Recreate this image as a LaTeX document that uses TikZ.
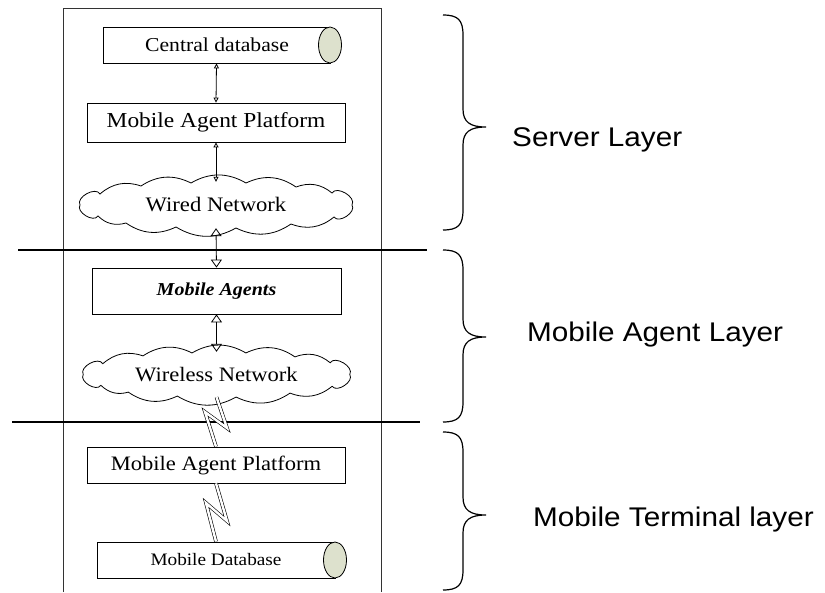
\documentclass[tikz,border=0pt]{standalone}
\usepackage{fontspec}
\usepackage{graphicx}
\setmainfont{Liberation Serif}
\newfontfamily\arialf{Liberation Sans}
\usetikzlibrary{arrows.meta,shapes.geometric}
\definecolor{capfill}{RGB}{221,225,205}
\newcommand\hx[1]{\scalebox{1.1}[1]{#1}}
\newcommand\fsz[1]{\fontsize{#1}{#1}\selectfont}
\tikzset{
  box/.style={draw, line width=0.8pt, rectangle, inner sep=0pt, align=center},
  netbox/.style={rectangle, inner sep=0pt},
  cloudline/.style={line width=0.8pt, black},
  dbcap/.style={draw, line width=0.8pt, ellipse, fill=capfill, inner sep=0pt, minimum width=23pt, minimum height=36pt},
  sarr/.style={{Triangle[open,length=5pt,width=5pt]}-{Triangle[open,length=5pt,width=5pt]}, line width=0.8pt},
  barr/.style={{Triangle[open,length=8pt,width=11pt]}-{Triangle[open,length=8pt,width=11pt]}, line width=0.8pt},
  bolt/.style={double=white, double distance=2.4pt, line width=0.6pt, line join=miter},
  frame/.style={line width=0.9pt, black!80},
  sep/.style={line width=1.4pt, black},
  bracestyle/.style={line width=1.2pt, black},
  layerlbl/.style={anchor=west, inner sep=0pt, font=\arialf\fsz{27}}
}
% cloud outline centred at (#1,#2), horizontal scale #3, vertical scale #4
\newcommand\cloudshapeat[4]{%
  \begin{scope}[shift={(#1,#2)}, y=1pt, xscale=#3, yscale=#4]
    \draw[cloudline] (-136,0) to[bend left=90] (-116,11) to[bend left=30] (-75,19)
      to[bend left=30] (-25,22) to[bend left=30] (30,22) to[bend left=30] (80,18)
      to[bend left=30] (116,12) to[bend left=90] (136,0) to[bend left=90] (118,-12)
      to[bend left=30] (75,-19) to[bend left=30] (20,-23) to[bend left=30] (-40,-22)
      to[bend left=30] (-90,-18) to[bend left=30] (-118,-11) to[bend left=90] cycle;
  \end{scope}}
\begin{document}
\begin{tikzpicture}[x=1pt,y=-1pt]
\useasboundingbox (0,0) rectangle (825,592);
% frame
\draw[frame] (63,592) -- (63,8) -- (381,8) -- (381,592);
% separators
\draw[sep] (18,250) -- (427,250);
\draw[sep] (12,422) -- (420,422);

% nodes
\node[box, minimum width=227pt, minimum height=36pt] (cdb) at (216.5,45) {};
\node[dbcap] (cdbcap) at (330,45) {};
\node (cdbt) at (217,45) {\hx{\fsz{19.7}Central database}};

\node[box, minimum width=258pt, minimum height=39pt] (map1) at (216,122.5) {\hx{\fsz{21.3}Mobile Agent Platform}};

\cloudshapeat{216}{205}{1}{1}
\node[netbox, minimum width=272pt, minimum height=46pt] (wired) at (216,205) {\hx{\fsz{20.6}Wired Network}};

\node[box, minimum width=249pt, minimum height=46pt] (agents) at (216.5,291) {\hx{\fsz{18.2}\bfseries\itshape Mobile Agents}};

\cloudshapeat{216.5}{374.5}{0.98}{0.98}
\node[netbox, minimum width=267pt, minimum height=45pt] (wireless) at (216.5,374.5) {\hx{\fsz{20.5}Wireless Network}};

\node[box, minimum width=258pt, minimum height=36pt] (map2) at (216,465) {\hx{\fsz{20.5}Mobile Agent Platform}};
\node[box, minimum width=238pt, minimum height=36pt] (mdb) at (216,560) {};
\node[dbcap] (mdbcap) at (335,560) {};
\node (mdbt) at (216,560) {\hx{\fsz{17.5}Mobile Database}};

% connectors
\draw[sarr] (cdb.south) -- (map1.north);
\draw[sarr] (map1.south) -- (wired.north);
\draw[barr] (wired.south) -- (agents.north);
\draw[barr] (agents.south) -- (wireless.north);

\coordinate (b1r) at (227,428);
\coordinate (b1l) at (205,412);
\draw[bolt] (wireless.south) -- (b1r) -- (b1l) -- (map2.north);
\coordinate (b2r) at (227,521);
\coordinate (b2l) at (206,503);
\draw[bolt] (map2.south) -- (b2r) -- (b2l) -- (mdb.north);

% braces
\draw[bracestyle] (443,15) .. controls (458,15) and (463,20) .. (463,35) -- (463,109)
  .. controls (463,122) and (470,127) .. (486,127) .. controls (470,127) and (463,132) .. (463,145)
  -- (463,210) .. controls (463,225) and (458,230) .. (443,230);
\draw[bracestyle] (443,250) .. controls (458,250) and (463,255) .. (463,270) -- (463,319)
  .. controls (463,332) and (470,337) .. (486,337) .. controls (470,337) and (463,342) .. (463,355)
  -- (463,402) .. controls (463,417) and (458,422) .. (443,422);
\draw[bracestyle] (443,432) .. controls (458,432) and (463,437) .. (463,452) -- (463,497)
  .. controls (463,510) and (470,515) .. (486,515) .. controls (470,515) and (463,520) .. (463,533)
  -- (463,570) .. controls (463,585) and (458,590) .. (443,590);

% layer labels
\node[layerlbl] (l1) at (512,140) {\hx{Server Layer}};
\node[layerlbl] (l2) at (527,335) {\hx{Mobile Agent Layer}};
\node[layerlbl] (l3) at (533,520) {\hx{Mobile Terminal layer}};
\end{tikzpicture}
\end{document}
